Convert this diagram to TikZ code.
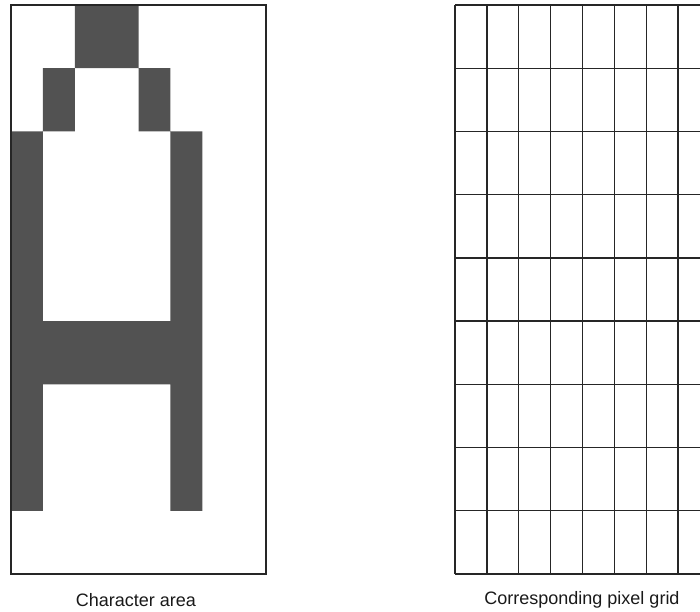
\documentclass[tikz,border=0pt]{standalone}
\usepackage{fontspec}
\setmainfont{Liberation Sans}
\begin{document}
\begin{tikzpicture}[x=1pt,y=-1pt,
  frame/.style={draw=black!85,line width=1.3pt},
  gridline/.style={draw=black!85,line width=1.3pt},
  ink/.style={fill=black!68},
  caption/.style={font=\fontsize{18}{20}\selectfont,text=black!90,inner sep=0pt,anchor=center}]
\useasboundingbox (0,0) rectangle (700,611);
\def\cw{31.875}
\def\rh{63.222}
% character area: the letter A on an 8x9 cell raster
\fill[ink]
  ({11+2*\cw},{5+0*\rh}) rectangle ({11+4*\cw},{5+1*\rh})
  ({11+1*\cw},{5+1*\rh}) rectangle ({11+2*\cw},{5+2*\rh})
  ({11+4*\cw},{5+1*\rh}) rectangle ({11+5*\cw},{5+2*\rh})
  ({11+0*\cw},{5+2*\rh}) rectangle ({11+1*\cw},{5+8*\rh})
  ({11+5*\cw},{5+2*\rh}) rectangle ({11+6*\cw},{5+8*\rh})
  ({11+1*\cw},{5+5*\rh}) rectangle ({11+5*\cw},{5+6*\rh});
\draw[frame] (11,5) rectangle (266,574);
\node[caption] (capA) at (136,600) {Character area};
% corresponding pixel grid (clipped at the right edge)
\begin{scope}
\clip (440,0) rectangle (700,611);
\foreach \i in {0,...,8}{
  \draw[gridline] ({455+\i*\cw},5) -- ({455+\i*\cw},574);
}
\foreach \j in {0,...,9}{
  \draw[gridline] (455,{5+\j*\rh}) -- (712,{5+\j*\rh});
}
\end{scope}
\node[caption] (capB) at (582,600) {Corresponding pixel grid};
\end{tikzpicture}
\end{document}
